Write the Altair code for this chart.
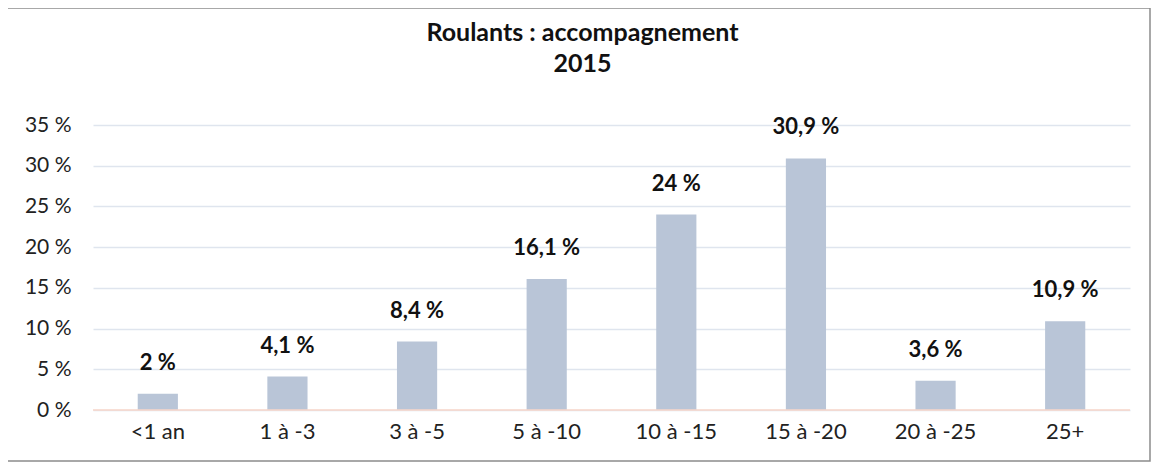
import altair as alt
import pandas as pd

categories = ["<1 an", "1 à -3", "3 à -5", "5 à -10", "10 à -15", "15 à -20", "20 à -25", "25+"]
values = [2, 4.1, 8.4, 16.1, 24, 30.9, 3.6, 10.9]
y_ticks = [0, 5, 10, 15, 20, 25, 30, 35]
title_lines = ["Roulants : accompagnement", "2015"]

df = pd.DataFrame({"cat": categories, "v": values})
FONT = "Lato"

base = alt.Chart(df)

x_enc = alt.X("cat:N", sort=categories, title=None,
              scale=alt.Scale(paddingInner=0.69, paddingOuter=0.345),
              axis=alt.Axis(labelAngle=0, domain=False, ticks=False, labelPadding=11,
                            labelFontSize=22, labelFont=FONT, labelColor="#222222"))
y_enc = alt.Y("v:Q", title=None,
              scale=alt.Scale(domain=[0, 35], nice=False),
              axis=alt.Axis(values=y_ticks, labelExpr="datum.value + ' %'", domain=False,
                            ticks=False, labelPadding=22, labelFontSize=21, labelFont=FONT,
                            labelColor="#222222", gridColor="#dfe5ee", gridWidth=1.5))

bars = base.mark_bar(color="#b9c5d7").encode(x=x_enc, y=y_enc)

labels = base.mark_text(fontSize=22, fontWeight="bold", font=FONT, color="#111111",
                        baseline="middle", dy=-31).encode(
    x=alt.X("cat:N", sort=categories),
    y=alt.Y("v:Q"),
    text=alt.Text("lbl:N"),
).transform_calculate(lbl="replace(format(datum.v, '.1~f'), '.', ',') + ' %'")

zero = alt.Chart(pd.DataFrame({"z": [0]})).mark_rule(color="#f9d6ca", strokeWidth=1.5).encode(
    y=alt.Y("z:Q"))

frame = alt.Chart(pd.DataFrame({"a": [0]})).mark_rect(filled=False, stroke="#8c8c8c",
                                                      strokeWidth=1.5).encode(
    x=alt.value(-86), x2=alt.value(1057), y=alt.value(-117), y2=alt.value(336))

chart = alt.layer(bars, zero, labels, frame).properties(
    width=1037, height=285,
    title=alt.TitleParams(text=title_lines, font=FONT, fontSize=25, fontWeight="bold",
                          color="#111111", lineHeight=31, anchor="middle", dx=-29,
                          baseline="bottom", offset=-95),
    autosize=alt.AutoSizeParams(type="none"),
    padding={"left": 85, "top": 117, "right": 22, "bottom": 52},
).configure(background="white").configure_view(stroke="transparent", strokeWidth=0)

chart.save("out.html", embed_options={"renderer": "svg", "actions": False})
